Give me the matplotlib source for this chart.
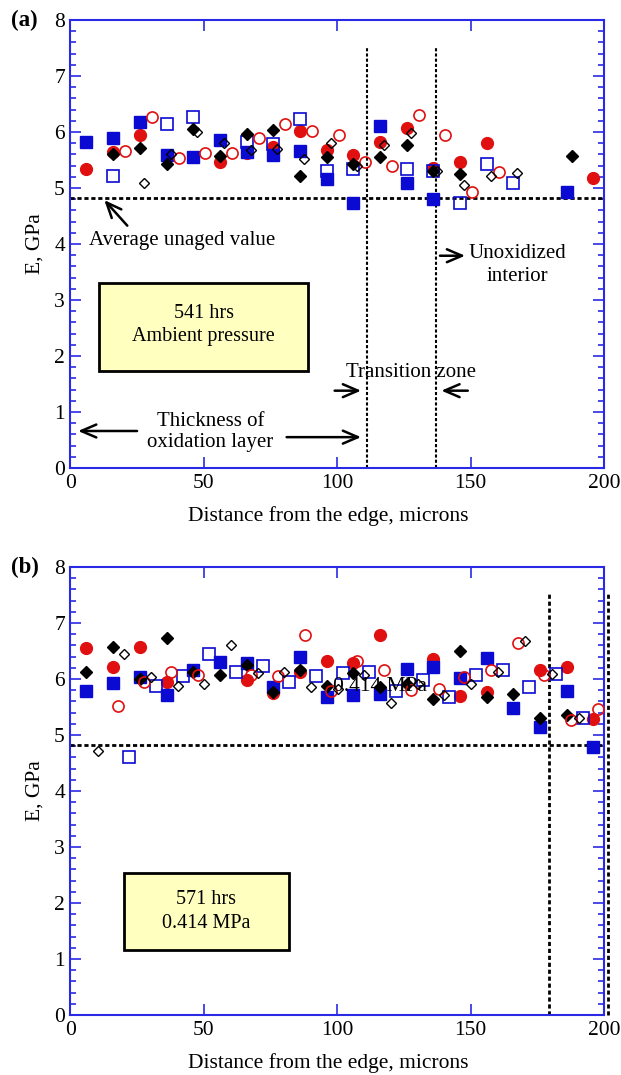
import matplotlib
matplotlib.use("Agg")
import matplotlib.pyplot as plt
from matplotlib.patches import Rectangle
from matplotlib.ticker import MultipleLocator

# ---- panel (a): 541 hrs, ambient pressure ----
a_sq_fill_x = [6, 16, 26, 36, 46, 56, 66, 76, 86, 96, 106, 116, 126, 136, 186]
a_sq_fill_y = [5.82, 5.90, 6.17, 5.59, 5.56, 5.86, 5.65, 5.59, 5.66, 5.16, 4.73, 6.11, 5.09, 4.80, 4.92]
a_sq_open_x = [16, 36, 46, 66, 76, 86, 96, 106, 126, 136, 146, 156, 166]
a_sq_open_y = [5.21, 6.14, 6.27, 5.82, 5.78, 6.24, 5.30, 5.33, 5.34, 5.31, 4.73, 5.42, 5.08]
a_ci_fill_x = [6, 16, 26, 56, 66, 76, 86, 96, 106, 116, 126, 136, 146, 156, 196]
a_ci_fill_y = [5.34, 5.64, 5.95, 5.47, 5.62, 5.74, 6.02, 5.67, 5.59, 5.83, 6.07, 5.35, 5.47, 5.80, 5.17]
a_ci_open_x = [20.5, 30.5, 40.5, 50.5, 60.5, 70.5, 80.5, 90.5, 100.5, 110.5, 120.5, 130.5, 140.5, 150.5, 160.5]
a_ci_open_y = [5.66, 6.26, 5.54, 5.63, 5.62, 5.89, 6.15, 6.01, 5.94, 5.46, 5.39, 6.30, 5.95, 4.92, 5.29]
a_di_fill_x = [16, 26, 36, 46, 56, 66, 76, 86, 96, 106, 116, 126, 136, 146, 188]
a_di_fill_y = [5.60, 5.72, 5.42, 6.05, 5.57, 5.96, 6.04, 5.21, 5.56, 5.43, 5.56, 5.77, 5.30, 5.25, 5.57]
a_di_open_x = [27.5, 37.5, 47.5, 57.5, 67.5, 77.5, 87.5, 97.5, 107.5, 117.5, 127.5, 137.5, 147.5, 157.5, 167.5]
a_di_open_y = [5.09, 5.60, 6.00, 5.80, 5.67, 5.70, 5.51, 5.81, 5.39, 5.76, 5.98, 5.30, 5.05, 5.21, 5.26]

# ---- panel (b): 571 hrs, 0.414 MPa ----
b_sq_fill_x = [6, 16, 26, 36, 46, 56, 66, 76, 86, 96, 106, 116, 126, 136, 146, 156, 166, 176, 186, 196]
b_sq_fill_y = [5.79, 5.93, 6.03, 5.71, 6.16, 6.30, 6.28, 5.86, 6.40, 5.68, 5.71, 5.73, 6.18, 6.21, 6.01, 6.37, 5.49, 5.14, 5.79, 4.79]
b_sq_open_x = [22, 32, 42, 52, 62, 72, 82, 92, 102, 112, 122, 132, 142, 152, 162, 172, 182, 192]
b_sq_open_y = [4.60, 5.87, 6.06, 6.45, 6.12, 6.23, 5.95, 6.06, 6.10, 6.12, 5.79, 5.99, 5.68, 6.07, 6.16, 5.86, 6.09, 5.31]
b_ci_fill_x = [6, 16, 26, 36, 66, 76, 86, 96, 106, 116, 136, 146, 156, 176, 186, 196]
b_ci_fill_y = [6.55, 6.22, 6.57, 5.95, 5.99, 5.75, 6.12, 6.33, 6.28, 6.79, 6.35, 5.70, 5.77, 6.16, 6.22, 5.29]
b_ci_open_x = [17.7, 27.7, 37.7, 47.7, 67.7, 77.8, 87.8, 97.5, 107.6, 117.6, 127.5, 138, 147.7, 157.6, 167.6, 177.5, 187.6, 197.9]
b_ci_open_y = [5.51, 5.95, 6.13, 6.08, 6.08, 6.05, 6.79, 5.79, 6.33, 6.16, 5.81, 5.82, 6.04, 6.17, 6.64, 6.08, 5.27, 5.46]
b_di_fill_x = [6, 16, 26, 36, 46, 56, 66, 76, 86, 96, 106, 116, 126, 136, 146, 156, 166, 176, 186]
b_di_fill_y = [6.12, 6.57, 6.00, 6.74, 6.12, 6.07, 6.25, 5.76, 6.16, 5.87, 6.11, 5.85, 5.92, 5.64, 6.50, 5.68, 5.74, 5.30, 5.36]
b_di_open_x = [10.2, 20.2, 30.2, 40.2, 50.2, 60.2, 70.4, 80.2, 90.2, 100.2, 110.2, 120.2, 130.2, 140.2, 150.2, 160.2, 170.4, 180.4, 190.6]
b_di_open_y = [4.72, 6.44, 6.04, 5.87, 5.92, 6.61, 6.10, 6.12, 5.85, 5.82, 6.08, 5.58, 5.92, 5.71, 5.92, 6.12, 6.68, 6.09, 5.30]

unaged = 4.82

BLUE = "#0a0ad2"
RED = "#e01010"
SPINE = "#2a2ae6"
FONT = "Liberation Serif"

plt.rcParams["font.family"] = FONT
plt.rcParams["font.size"] = 15.5

fig = plt.figure(figsize=(6.21, 10.75), dpi=100)
ax1 = fig.add_axes([0.1135, 0.5647, 0.859, 0.4167])
ax2 = fig.add_axes([0.1135, 0.0558, 0.859, 0.4167])


def style(ax):
    ax.set_xlim(0, 200)
    ax.set_ylim(0, 8)
    ax.xaxis.set_major_locator(MultipleLocator(50))
    ax.yaxis.set_major_locator(MultipleLocator(1))
    ax.yaxis.set_minor_locator(MultipleLocator(0.2))
    for s in ax.spines.values():
        s.set_color(SPINE)
        s.set_linewidth(1.5)
    ax.tick_params(which="both", direction="in", color=SPINE, top=True, right=True,
                   labelsize=15.5, width=1.2)
    ax.tick_params(which="major", length=8, pad=4)
    ax.tick_params(which="minor", length=4.5)
    ax.set_xlabel("Distance from the edge, microns", fontsize=15.5, labelpad=11)
    ax.xaxis.set_label_coords(0.483, -0.085)
    ax.set_ylabel("E, GPa", fontsize=15.5, labelpad=7)


def points(ax, sqf, sqo, cif, cio, dif, dio):
    ax.plot(*cif, "o", ms=8.5, color=RED, mec=RED, zorder=3)
    ax.plot(*sqf, "s", ms=9, color=BLUE, mec=BLUE, zorder=3)
    ax.plot(*sqo, "s", ms=8.5, mfc="none", mec=BLUE, mew=1.2, zorder=4)
    ax.plot(*dif, "D", ms=6.5, color="k", zorder=4)
    ax.plot(*cio, "o", ms=8, mfc="none", mec=RED, mew=1.2, zorder=5)
    ax.plot(*dio, "D", ms=5.5, mfc="none", mec="k", mew=1.0, zorder=5)


arrow = dict(arrowstyle="->,head_length=0.7,head_width=0.3", color="k", lw=1.8)

# panel (a)
style(ax1)
points(ax1, (a_sq_fill_x, a_sq_fill_y), (a_sq_open_x, a_sq_open_y),
       (a_ci_fill_x, a_ci_fill_y), (a_ci_open_x, a_ci_open_y),
       (a_di_fill_x, a_di_fill_y), (a_di_open_x, a_di_open_y))
ax1.axhline(unaged, color="k", lw=2, ls=(0, (1.5, 1)), zorder=2)
ax1.plot([111, 111], [0, 7.5], color="k", lw=1.5, ls=(0, (1.5, 1)), zorder=2)
ax1.plot([137, 137], [0, 7.5], color="k", lw=1.5, ls=(0, (1.5, 1)), zorder=2)
ax1.annotate("", xy=(12, unaged), xytext=(22, 4.29), arrowprops=arrow)
ax1.text(42, 4.07, "Average unaged value", ha="center", va="center", fontsize=15)
ax1.annotate("", xy=(149, 3.79), xytext=(137.5, 3.79), arrowprops=arrow)
ax1.text(167.5, 3.62, "Unoxidized\ninterior", ha="center", va="center", fontsize=15, linespacing=1.25)
ax1.add_patch(Rectangle((10.7, 1.74), 78.5, 1.57, facecolor="#ffffc0", edgecolor="k", lw=2, zorder=1))
ax1.text(50, 2.56, "541 hrs\nAmbient pressure", ha="center", va="center", fontsize=14.5, linespacing=1.3)
ax1.text(127.5, 1.71, "Transition zone", ha="center", va="center", fontsize=15)
ax1.annotate("", xy=(110, 1.38), xytext=(98, 1.38), arrowprops=arrow)
ax1.annotate("", xy=(138, 1.38), xytext=(150, 1.38), arrowprops=arrow)
ax1.text(52.5, 0.64, "Thickness of\noxidation layer", ha="center", va="center", fontsize=15, linespacing=1.15)
ax1.annotate("", xy=(1.8, 0.66), xytext=(26, 0.66), arrowprops=arrow)
ax1.annotate("", xy=(110, 0.55), xytext=(80, 0.55), arrowprops=arrow)
fig.text(0.018, 0.981, "(a)", fontsize=16.5, fontweight="bold", va="center")

# panel (b)
style(ax2)
points(ax2, (b_sq_fill_x, b_sq_fill_y), (b_sq_open_x, b_sq_open_y),
       (b_ci_fill_x, b_ci_fill_y), (b_ci_open_x, b_ci_open_y),
       (b_di_fill_x, b_di_fill_y), (b_di_open_x, b_di_open_y))
ax2.axhline(unaged, color="k", lw=2, ls=(0, (1.5, 1)), zorder=2)
ax2.plot([179.5, 179.5], [0, 7.55], color="k", lw=2, ls=(0, (1.5, 1)), zorder=2)
ax2.plot([201.4, 201.4], [0, 7.55], color="k", lw=2, ls=(0, (1.5, 1)), zorder=2, clip_on=False)
ax2.add_patch(Rectangle((19.9, 1.16), 62, 1.38, facecolor="#ffffc0", edgecolor="k", lw=2, zorder=1))
ax2.text(50.9, 1.85, "571 hrs\n0.414 MPa", ha="center", va="center", fontsize=14.5, linespacing=1.3)
ax2.text(98.5, 5.87, "0.414 MPa", ha="left", va="center", fontsize=15.5, zorder=6)
fig.text(0.018, 0.4726, "(b)", fontsize=16.5, fontweight="bold", va="center")

fig.savefig("out.png", dpi=100)
